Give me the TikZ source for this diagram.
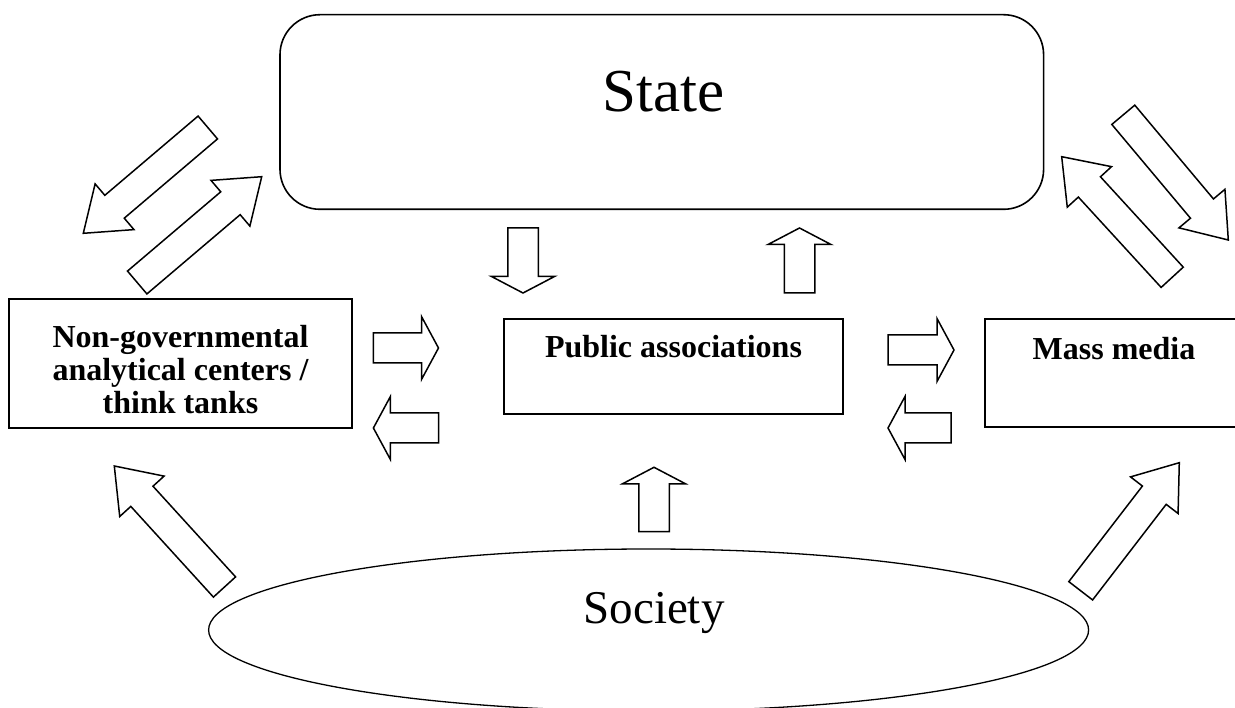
\documentclass[tikz,border=0pt]{standalone}
\usepackage{fontspec}
\setmainfont{Liberation Serif}
\usetikzlibrary{calc,shapes.geometric}
\tikzset{
  box/.style={draw, line width=1.6pt, inner sep=0pt, outer sep=0pt},
  harrow/.style={draw, line width=1.5pt, fill=white, line join=miter},
  lbl/.style={font=\fontsize{32}{33}\selectfont\bfseries, inner sep=0pt, align=center},
  bigtext/.style={inner sep=0pt, anchor=base},
}
% tail, tip, half shaft width, half head width, head length
\newcommand\hollowarrow[5]{%
  \coordinate (hb) at ($(#2)!#5!(#1)$);
  \draw[harrow] ($(#1)!#3!90:(#2)$) -- ($(hb)!#3!90:(#2)$) -- ($(hb)!#4!90:(#2)$) -- (#2)
    -- ($(hb)!#4!-90:(#2)$) -- ($(hb)!#3!-90:(#2)$) -- ($(#1)!#3!-90:(#2)$) -- cycle;}
\begin{document}
\begin{tikzpicture}[x=1pt, y=-1pt]
\useasboundingbox (0,0) rectangle (1235,708);
\clip (0,0) rectangle (1235,708);

% main nodes
\node[box, rounded corners=40pt, minimum width=763.6pt, minimum height=194.6pt] (state) at (661.8,112) {};
\node[bigtext, font=\fontsize{61}{70}\selectfont] (statetext) at (663.5,112) {State};

\node[box, minimum width=343pt, minimum height=129pt] (ngo) at (180.5,363.5) {};
\node[lbl] (ngotext) at (180.5,370) {Non-governmental\\analytical centers /\\think tanks};

\node[box, minimum width=339pt, minimum height=95pt] (pa) at (673.5,366.5) {};
\node[lbl, anchor=base] (patext) at (673.5,358) {Public associations};

\node[box, minimum width=258pt, minimum height=108pt] (mm) at (1114,373) {};
\node[lbl, anchor=base] (mmtext) at (1114,360) {Mass media};

\node[box, ellipse, line width=1.3pt, minimum width=880pt, minimum height=162pt] (society) at (648.6,630) {};
\node[bigtext, font=\fontsize{47}{56}\selectfont] (societytext) at (654,623) {Society};

% arrow end points
\coordinate (a1t) at (523,228);     \coordinate (a1h) at (523,293);
\coordinate (a2t) at (799.5,293);   \coordinate (a2h) at (799.5,228);
\coordinate (a3t) at (373.4,348);   \coordinate (a3h) at (438.5,348);
\coordinate (a4t) at (438.5,428);   \coordinate (a4h) at (373.4,428);
\coordinate (a5t) at (888,350);     \coordinate (a5h) at (954,350);
\coordinate (a6t) at (951,428);     \coordinate (a6h) at (888,428);
\coordinate (a7t) at (654,531.7);   \coordinate (a7h) at (654,467.3);

\coordinate (d1t) at (207.8,127.5); \coordinate (d1h) at (83.3,233.3);
\coordinate (d2t) at (137.2,282.5); \coordinate (d2h) at (261.7,176.7);
\coordinate (d3t) at (1123.3,114.8);\coordinate (d3h) at (1228.3,240);
\coordinate (d4t) at (1172.2,277.3);\coordinate (d4h) at (1061.7,156.7);
\coordinate (d5t) at (224.5,587);   \coordinate (d5h) at (114.3,466);
\coordinate (d6t) at (1080.7,590.8);\coordinate (d6h) at (1179.3,462.7);

% straight block arrows
\hollowarrow{a1t}{a1h}{15.25pt}{31.5pt}{16.5pt}
\hollowarrow{a2t}{a2h}{15.25pt}{31.5pt}{16.5pt}
\hollowarrow{a3t}{a3h}{15pt}{31.5pt}{17pt}
\hollowarrow{a4t}{a4h}{15pt}{31.5pt}{17pt}
\hollowarrow{a5t}{a5h}{15pt}{31.5pt}{17pt}
\hollowarrow{a6t}{a6h}{15pt}{31.5pt}{17pt}
\hollowarrow{a7t}{a7h}{15.25pt}{31.5pt}{16.5pt}

% diagonal block arrows
\hollowarrow{d1t}{d1h}{15pt}{30pt}{41pt}
\hollowarrow{d2t}{d2h}{15pt}{30pt}{41pt}
\hollowarrow{d3t}{d3h}{15pt}{30pt}{41pt}
\hollowarrow{d4t}{d4h}{15pt}{30pt}{41pt}
\hollowarrow{d5t}{d5h}{15pt}{30pt}{41pt}
\hollowarrow{d6t}{d6h}{15pt}{30pt}{41pt}
\end{tikzpicture}
\end{document}
